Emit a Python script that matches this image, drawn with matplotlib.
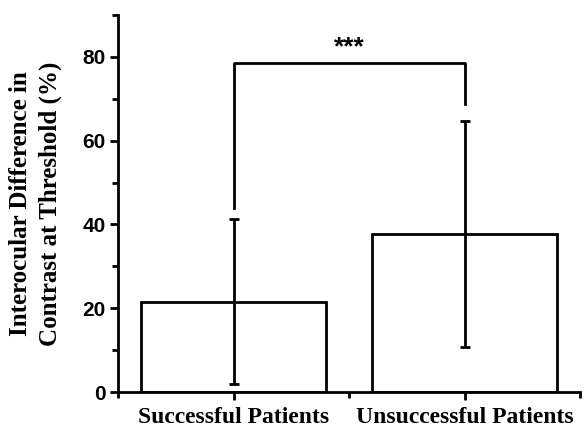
import matplotlib.pyplot as plt
import numpy as np

groups = ['Successful Patients', 'Unsuccessful Patients']
means = [21.6, 37.7]
errs = [19.6, 27.0]
bracket_y = 78.5
bracket_legs = [43.9, 68.8]

fig = plt.figure(figsize=(5.85, 4.29), dpi=100)
ax = fig.add_axes([0.2017, 0.0862, 0.7898, 0.8788])

x = np.arange(1, len(groups) + 1)
ax.bar(x, means, width=0.8, color='white', edgecolor='black', linewidth=2)
ax.errorbar(x, means, yerr=errs, fmt='none', ecolor='black', elinewidth=2,
            capsize=3.5, capthick=2)

# significance bracket
ax.plot([x[0], x[0], x[1], x[1]],
        [bracket_legs[0], bracket_y, bracket_y, bracket_legs[1]],
        color='black', linewidth=2)
ax.text((x[0] + x[1]) / 2, bracket_y + 1.0, '***', ha='center', va='bottom',
        fontsize=19, fontweight='bold', family='Liberation Sans')

ax.set_xlim(0.5, 2.5)
ax.set_ylim(0, 90)
ax.set_xticks(x)
ax.set_xticks([0.5, 1.5, 2.5], minor=True)
ax.set_yticks([0, 20, 40, 60, 80])
ax.set_yticks([10, 30, 50, 70, 90], minor=True)
ax.set_xticklabels(groups, family='Liberation Serif', fontweight='bold', fontsize=17)
for lab in ax.get_yticklabels():
    lab.set_family('Liberation Sans')
    lab.set_fontweight('bold')
    lab.set_fontsize(15)

ax.spines['top'].set_visible(False)
ax.spines['right'].set_visible(False)
ax.spines['left'].set_linewidth(2)
ax.spines['bottom'].set_linewidth(2)
ax.tick_params(which='major', length=6, width=2, pad=3)
ax.tick_params(which='minor', length=4, width=2)
ax.tick_params(axis='x', which='major', pad=5)

ax.set_ylabel('Interocular Difference in\nContrast at Threshold (%)',
              family='Liberation Serif', fontweight='bold', fontsize=18,
              linespacing=1.35)
ax.yaxis.set_label_coords(-0.122, 0.5)

fig.savefig('out.png', dpi=100)
